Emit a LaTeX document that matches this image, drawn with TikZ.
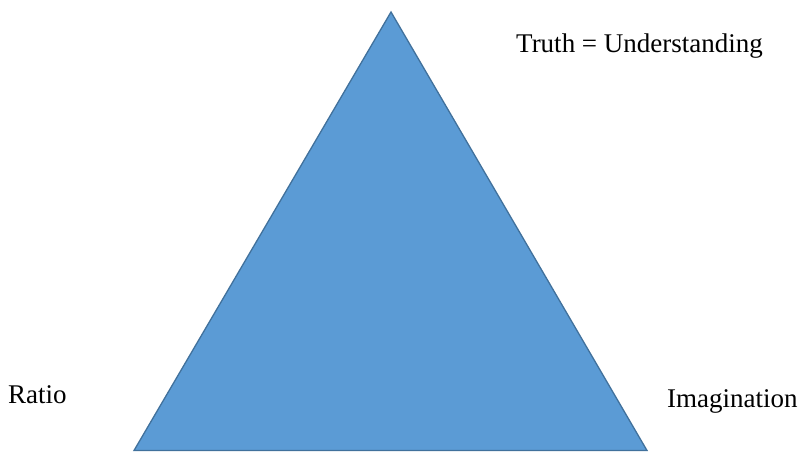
\documentclass[tikz,border=0pt]{standalone}
\usepackage{fontspec}
\setmainfont{Liberation Serif}
\definecolor{triFill}{HTML}{5B9BD5}
\definecolor{triLine}{HTML}{41719C}
\begin{document}
\begin{tikzpicture}[x=1pt,y=-1pt,
  lbl/.style={font=\fontsize{27}{30}\selectfont, inner sep=0pt, anchor=base west, text=black},
  tri/.style={fill=triFill, draw=triLine, line width=1.3pt, line join=miter}]
\useasboundingbox (0,0) rectangle (801,451);
\coordinate (apex) at (391,12);
\coordinate (bl) at (134,450.5);
\coordinate (br) at (647,450.5);
\draw[tri] (apex) -- (br) -- (bl) -- cycle;
\node[lbl] (truth) at (516,52) {Truth = Understanding};
\node[lbl] (ratio) at (8,403) {Ratio};
\node[lbl] (imag) at (667,407) {Imagination};
\end{tikzpicture}
\end{document}
